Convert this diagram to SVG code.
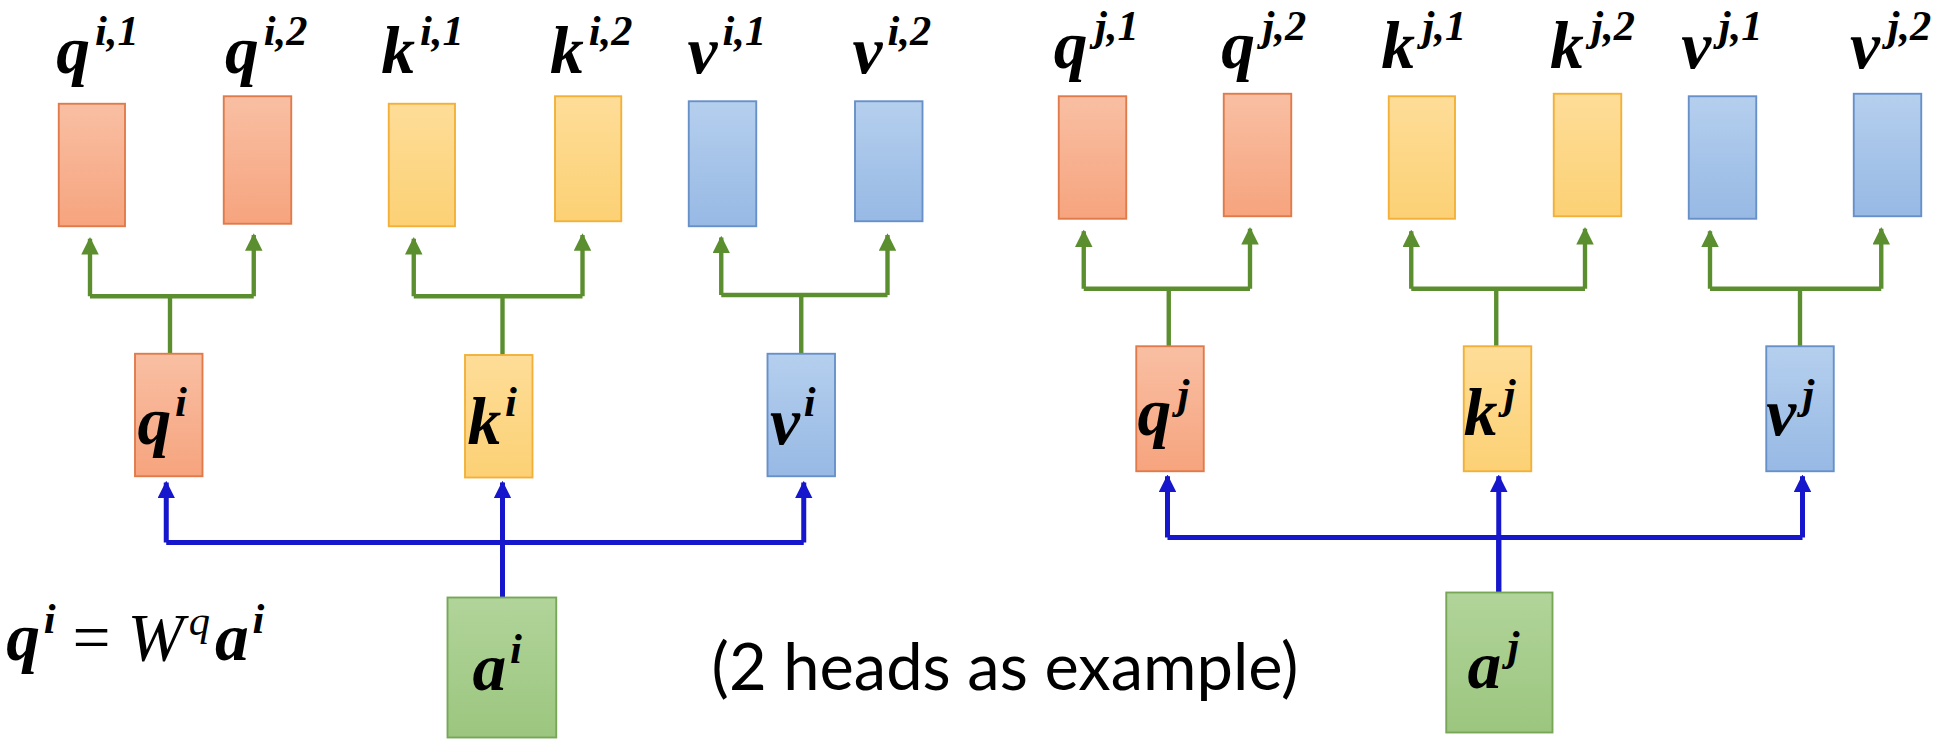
<svg xmlns="http://www.w3.org/2000/svg" width="1959" height="742" viewBox="0 0 1959 742">
<defs>
<linearGradient id="go" x1="0" y1="0" x2="0" y2="1"><stop offset="0" stop-color="#F9BFA3"/><stop offset="1" stop-color="#F6A47E"/></linearGradient>
<linearGradient id="gy" x1="0" y1="0" x2="0" y2="1"><stop offset="0" stop-color="#FEDD98"/><stop offset="1" stop-color="#FCD175"/></linearGradient>
<linearGradient id="gb" x1="0" y1="0" x2="0" y2="1"><stop offset="0" stop-color="#B5CFEE"/><stop offset="1" stop-color="#97B9E4"/></linearGradient>
<linearGradient id="gg" x1="0" y1="0" x2="0" y2="1"><stop offset="0" stop-color="#B1D49A"/><stop offset="1" stop-color="#9CC67F"/></linearGradient>
<marker id="ag" viewBox="0 0 10 10" refX="9" refY="5" markerWidth="4" markerHeight="4" orient="auto"><path d="M0,0L10,5L0,10z" fill="#5B8E2E"/></marker>
<marker id="ab" viewBox="0 0 10 10" refX="9" refY="5" markerWidth="3.5" markerHeight="3.5" orient="auto"><path d="M0,0L10,5L0,10z" fill="#1616CC"/></marker>
</defs>
<style>
.o{fill:url(#go);stroke:#E07A4A;stroke-width:1.5}
.y{fill:url(#gy);stroke:#F2B038;stroke-width:1.5}
.b{fill:url(#gb);stroke:#6790C8;stroke-width:1.5}
.g{fill:url(#gg);stroke:#78A657;stroke-width:1.5}
.m{font-family:"Liberation Serif",serif;font-weight:bold;font-style:italic;font-size:54px;fill:#000}
.s{font-size:34px}
.gl{stroke:#5B8E2E;stroke-width:3.5;fill:none}
.bl{stroke:#1616CC;stroke-width:4;fill:none}
.t{font-family:Lato,"Liberation Sans",sans-serif;font-size:52px;fill:#000}
</style>
<rect width="1959" height="742" fill="#fff"/>
<g transform="scale(1.25)">
<g id="connectors">
<path class="gl" d="M72,237H203M136,237V283"/><path class="gl" d="M72,237V191" marker-end="url(#ag)"/><path class="gl" d="M203,237V188" marker-end="url(#ag)"/>
<path class="gl" d="M331,237H466M402,237V284"/><path class="gl" d="M331,237V191" marker-end="url(#ag)"/><path class="gl" d="M466,237V188" marker-end="url(#ag)"/>
<path class="gl" d="M577,236H710M641,236V283"/><path class="gl" d="M577,236V190" marker-end="url(#ag)"/><path class="gl" d="M710,236V188" marker-end="url(#ag)"/>
<path class="gl" d="M867,231H1000M935,231V277"/><path class="gl" d="M867,231V185" marker-end="url(#ag)"/><path class="gl" d="M1000,231V183" marker-end="url(#ag)"/>
<path class="gl" d="M1129,231H1268M1197,231V277"/><path class="gl" d="M1129,231V185" marker-end="url(#ag)"/><path class="gl" d="M1268,231V183" marker-end="url(#ag)"/>
<path class="gl" d="M1368,231H1505M1440,231V277"/><path class="gl" d="M1368,231V185" marker-end="url(#ag)"/><path class="gl" d="M1505,231V183" marker-end="url(#ag)"/>
<path class="bl" d="M133,434H643M402,478V434"/><path class="bl" d="M133,434V386" marker-end="url(#ab)"/><path class="bl" d="M402,478V386" marker-end="url(#ab)"/><path class="bl" d="M643,434V386" marker-end="url(#ab)"/>
<path class="bl" d="M934,430H1442M1199,474V430"/><path class="bl" d="M934,430V381" marker-end="url(#ab)"/><path class="bl" d="M1199,474V381" marker-end="url(#ab)"/><path class="bl" d="M1442,430V381" marker-end="url(#ab)"/>
</g>
<g id="qi1"><rect class="o" x="47" y="83" width="53" height="98"/><text class="m" x="45" y="58">q<tspan class="s" dx="4" dy="-22">i,1</tspan></text></g>
<g id="qi2"><rect class="o" x="179" y="77" width="54" height="102"/><text class="m" x="180" y="58">q<tspan class="s" dx="4" dy="-22">i,2</tspan></text></g>
<g id="ki1"><rect class="y" x="311" y="83" width="53" height="98"/><text class="m" x="305" y="58">k<tspan class="s" dx="4" dy="-22">i,1</tspan></text></g>
<g id="ki2"><rect class="y" x="444" y="77" width="53" height="100"/><text class="m" x="440" y="58">k<tspan class="s" dx="4" dy="-22">i,2</tspan></text></g>
<g id="vi1"><rect class="b" x="551" y="81" width="54" height="100"/><text class="m" x="550" y="58">v<tspan class="s" dx="4" dy="-22">i,1</tspan></text></g>
<g id="vi2"><rect class="b" x="684" y="81" width="54" height="96"/><text class="m" x="682" y="58">v<tspan class="s" dx="4" dy="-22">i,2</tspan></text></g>
<g id="qj1"><rect class="o" x="847" y="77" width="54" height="98"/><text class="m" x="843" y="54">q<tspan class="s" dx="6" dy="-22">j,1</tspan></text></g>
<g id="qj2"><rect class="o" x="979" y="75" width="54" height="98"/><text class="m" x="977" y="54">q<tspan class="s" dx="6" dy="-22">j,2</tspan></text></g>
<g id="kj1"><rect class="y" x="1111" y="77" width="53" height="98"/><text class="m" x="1105" y="54">k<tspan class="s" dx="6" dy="-22">j,1</tspan></text></g>
<g id="kj2"><rect class="y" x="1243" y="75" width="54" height="98"/><text class="m" x="1240" y="54">k<tspan class="s" dx="6" dy="-22">j,2</tspan></text></g>
<g id="vj1"><rect class="b" x="1351" y="77" width="54" height="98"/><text class="m" x="1345" y="54">v<tspan class="s" dx="6" dy="-22">j,1</tspan></text></g>
<g id="vj2"><rect class="b" x="1483" y="75" width="54" height="98"/><text class="m" x="1480" y="54">v<tspan class="s" dx="6" dy="-22">j,2</tspan></text></g>
<g id="qi"><rect class="o" x="108" y="283" width="54" height="98"/><text class="m" x="110" y="355">q<tspan class="s" dx="3" dy="-22">i</tspan></text></g>
<g id="ki"><rect class="y" x="372" y="284" width="54" height="98"/><text class="m" x="374" y="355">k<tspan class="s" dx="3" dy="-22">i</tspan></text></g>
<g id="vi"><rect class="b" x="614" y="283" width="54" height="98"/><text class="m" x="616" y="355">v<tspan class="s" dx="3" dy="-22">i</tspan></text></g>
<g id="qj"><rect class="o" x="909" y="277" width="54" height="100"/><text class="m" x="910" y="348">q<tspan class="s" dx="5" dy="-22">j</tspan></text></g>
<g id="kj"><rect class="y" x="1171" y="277" width="54" height="100"/><text class="m" x="1171" y="348">k<tspan class="s" dx="5" dy="-22">j</tspan></text></g>
<g id="vj"><rect class="b" x="1413" y="277" width="54" height="100"/><text class="m" x="1413" y="348">v<tspan class="s" dx="5" dy="-22">j</tspan></text></g>
<g id="ai"><rect class="g" x="358" y="478" width="87" height="112"/><text class="m" x="378" y="552">a<tspan class="s" dx="3" dy="-22">i</tspan></text></g>
<g id="aj"><rect class="g" x="1157" y="474" width="85" height="112"/><text class="m" x="1174" y="550">a<tspan class="s" dx="5" dy="-22">j</tspan></text></g>
<text class="m" x="5" y="528">q<tspan class="s" dx="3" dy="-22">i</tspan><tspan dy="22" font-style="normal" font-weight="normal"> = </tspan><tspan font-weight="normal">W</tspan><tspan class="s" dx="4" dy="-20" font-weight="normal">q</tspan><tspan dx="4" dy="20">a</tspan><tspan class="s" dx="3" dy="-22">i</tspan></text>
<text class="t" x="804" y="552" text-anchor="middle">(2 heads as example)</text>
</g>
</svg>
